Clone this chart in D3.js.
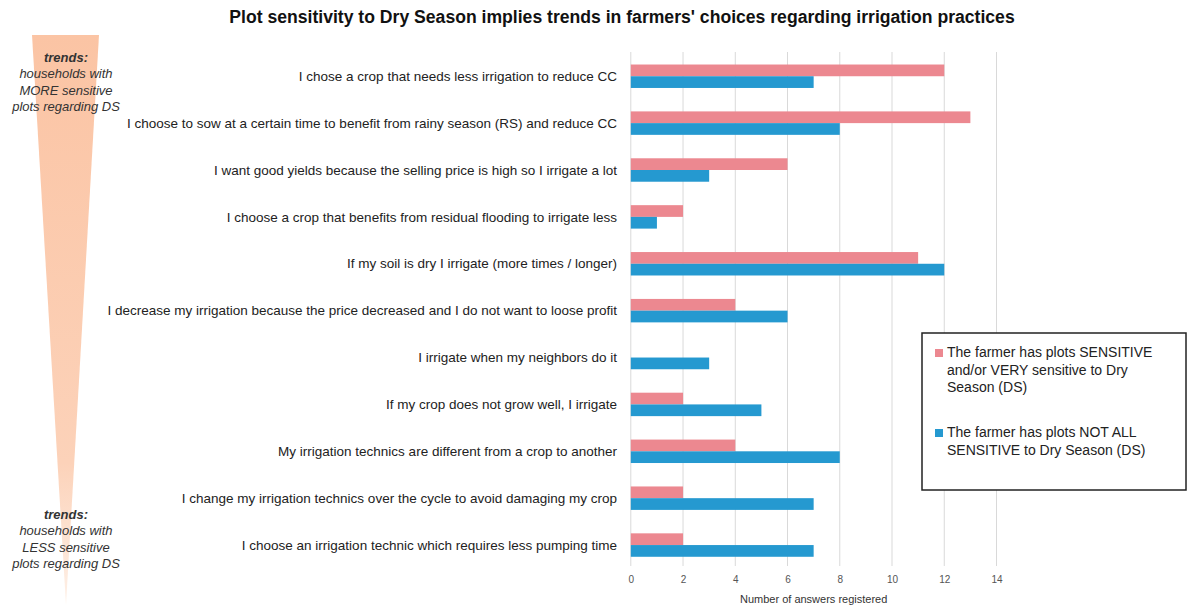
<!DOCTYPE html>
<html>
<head>
<meta charset="utf-8">
<script src="https://cdn.jsdelivr.net/npm/d3@7"></script>
<style>
  body { margin: 0; background: #fff; }
  svg { display: block; font-family: "Liberation Sans", Arial, sans-serif; }
</style>
</head>
<body>
<svg id="chart" width="1188" height="606"></svg>
<script>
// Chart data
const categories = [
    "I chose a crop that needs less irrigation to reduce CC",
    "I choose to sow at a certain time to benefit from rainy season (RS) and reduce CC",
    "I want good yields because the selling price is high so I irrigate a lot",
    "I choose a crop that benefits from residual flooding to irrigate less",
    "If my soil is dry I irrigate (more times / longer)",
    "I decrease my irrigation because the price decreased and I do not want to loose profit",
    "I irrigate when my neighbors do it",
    "If my crop does not grow well, I irrigate",
    "My irrigation technics are different from a crop to another",
    "I change my irrigation technics over the cycle to avoid damaging my crop",
    "I choose an irrigation technic which requires less pumping time"
];
const sensitiveValues = [12, 13, 6, 2, 11, 4, 0, 2, 4, 2, 2];
const notAllValues = [7, 8, 3, 1, 12, 6, 3, 5, 8, 7, 7];
const xTicks = [0, 2, 4, 6, 8, 10, 12, 14];
const seriesNames = [
    ["The farmer has plots SENSITIVE", "and/or VERY sensitive to Dry", "Season (DS)"],
    ["The farmer has plots NOT ALL", "SENSITIVE to Dry Season (DS)"]
];
const colors = ["#ec8890", "#2599d0"];

const svg = d3.select('#chart');

// Title
svg.append('text')
    .attr('x', 622)
    .attr('y', 23)
    .attr('text-anchor', 'middle')
    .style('font-size', '17.6px')
    .style('font-weight', 'bold')
    .attr('fill', '#111')
    .text("Plot sensitivity to Dry Season implies trends in farmers' choices regarding irrigation practices");

// Scales
const x = d3.scaleLinear().domain([0, 14]).range([630.8, 996.5]);
const y = d3.scaleBand().domain(categories).range([52.8, 568.5]).paddingInner(0.5).paddingOuter(0.25);
const sub = d3.scaleBand().domain([0, 1]).range([0, y.bandwidth()]);

// Gridlines
svg.append('g')
    .selectAll('line')
    .data(xTicks)
    .join('line')
    .attr('x1', d => x(d))
    .attr('x2', d => x(d))
    .attr('y1', 52)
    .attr('y2', 566)
    .attr('stroke', '#d9d9d9')
    .attr('stroke-width', 1);

// Bars
const rows = categories.map((c, i) => ({ cat: c, vals: [sensitiveValues[i], notAllValues[i]] }));
const groups = svg.append('g')
    .selectAll('g')
    .data(rows)
    .join('g')
    .attr('transform', d => `translate(0,${y(d.cat)})`);

groups.selectAll('rect')
    .data(d => d.vals.map((v, k) => ({ v, k })))
    .join('rect')
    .attr('x', x(0))
    .attr('y', d => sub(d.k))
    .attr('width', d => x(d.v) - x(0))
    .attr('height', sub.bandwidth())
    .attr('fill', d => colors[d.k]);

// Category labels
svg.append('g')
    .selectAll('text')
    .data(categories)
    .join('text')
    .attr('x', 617)
    .attr('y', d => y(d) + y.bandwidth() / 2)
    .attr('dy', '0.35em')
    .attr('text-anchor', 'end')
    .style('font-size', '13.5px')
    .attr('fill', '#222')
    .text(d => d);

// X axis tick labels
const xAxis = d3.axisBottom(x).tickValues(xTicks).tickSize(0).tickPadding(0);
const ax = svg.append('g')
    .attr('transform', 'translate(0,576)')
    .call(xAxis);
ax.select('.domain').remove();
ax.selectAll('text')
    .style('font-size', '10px')
    .attr('fill', '#555')
    .attr('dy', '0.71em');

svg.append('text')
    .attr('x', x(7))
    .attr('y', 603)
    .attr('text-anchor', 'middle')
    .style('font-size', '11px')
    .attr('fill', '#333')
    .text('Number of answers registered');

// Legend
const legend = svg.append('g');
legend.append('rect')
    .attr('x', 922)
    .attr('y', 333)
    .attr('width', 264)
    .attr('height', 157)
    .attr('fill', '#fff')
    .attr('stroke', '#222')
    .attr('stroke-width', 1.5);

const legendTop = [357, 437];
seriesNames.forEach((lines, k) => {
    legend.append('rect')
        .attr('x', 935)
        .attr('y', legendTop[k] - 8)
        .attr('width', 8)
        .attr('height', 8)
        .attr('fill', colors[k]);
    lines.forEach((t, j) => {
        legend.append('text')
            .attr('x', 947)
            .attr('y', legendTop[k] + j * 17.5)
            .style('font-size', '14px')
            .attr('fill', '#222')
            .text(t);
    });
});

// Trend triangle on the left
const defs = svg.append('defs');
const grad = defs.append('linearGradient')
    .attr('id', 'trendGrad')
    .attr('x1', 0).attr('y1', 0).attr('x2', 0).attr('y2', 1);
grad.append('stop').attr('offset', '0%').attr('stop-color', '#fbc4a4');
grad.append('stop').attr('offset', '75%').attr('stop-color', '#fcd2b9');
grad.append('stop').attr('offset', '100%').attr('stop-color', '#fef1e8');

svg.append('path')
    .attr('d', 'M32,35 L99,35 L66,605 Z')
    .attr('fill', 'url(#trendGrad)');

const trendTexts = [
    { top: 62, lines: ["trends:", "households with", "MORE sensitive", "plots regarding DS"] },
    { top: 519, lines: ["trends:", "households with", "LESS sensitive", "plots regarding DS"] }
];
trendTexts.forEach(block => {
    block.lines.forEach((t, j) => {
        svg.append('text')
            .attr('x', 66)
            .attr('y', block.top + j * 16.3)
            .attr('text-anchor', 'middle')
            .style('font-size', '13px')
            .style('font-style', 'italic')
            .style('font-weight', j === 0 ? 'bold' : 'normal')
            .attr('fill', '#333')
            .text(t);
    });
});
</script>
</body>
</html>
